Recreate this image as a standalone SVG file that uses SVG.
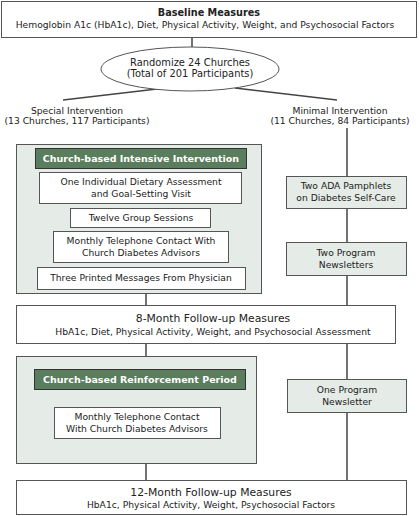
<svg xmlns="http://www.w3.org/2000/svg" width="419" height="516" viewBox="0 0 419 516">
<style>
text{font-family:"DejaVu Sans","Liberation Sans",sans-serif;fill:#222;text-anchor:middle;font-size:9.2px}
.b{font-weight:bold;font-size:9.7px}
.h{font-weight:bold;fill:#fff;font-size:9.5px}
.t{font-size:10.8px}
.r{font-size:9.9px}
.box{fill:#fff;stroke:#555;stroke-width:1}
.grp{fill:#e5ebe6;stroke:#555;stroke-width:1}
.hdr{fill:#5a7d5d;stroke:#333;stroke-width:1}
.c{stroke:#444;stroke-width:1.5;fill:none}
</style>
<rect width="419" height="516" fill="#fff"/>
<g id="connectors">
<line class="c" x1="192" y1="37" x2="192" y2="47"/>
<line class="c" x1="157" y1="89" x2="63" y2="100"/>
<line class="c" x1="235" y1="88" x2="337" y2="100"/>
<line class="c" x1="347" y1="128" x2="347" y2="480" stroke-width="2"/>
<line class="c" x1="146" y1="294" x2="146" y2="305"/>
<line class="c" x1="146" y1="343" x2="146" y2="356"/>
<line class="c" x1="146" y1="463" x2="146" y2="480"/>
</g>
<g id="baseline">
<rect class="box" x="1.5" y="1.5" width="415" height="36"/>
<text x="209" y="16" class="b">Baseline Measures</text>
<text x="205" y="28">Hemoglobin A1c (HbA1c), Diet, Physical Activity, Weight, and Psychosocial Factors</text>
</g>
<g id="randomize">
<ellipse class="box" cx="190" cy="69" rx="89" ry="22"/>
<text x="190" y="66" class="r">Randomize 24 Churches</text>
<text x="190" y="77" class="r">(Total of 201 Participants)</text>
</g>
<g id="special">
<text x="77" y="114">Special Intervention</text>
<text x="77" y="124">(13 Churches, 117 Participants)</text>
</g>
<g id="minimal">
<text x="340" y="114">Minimal Intervention</text>
<text x="340" y="124">(11 Churches, 84 Participants)</text>
</g>
<g id="intensive">
<rect class="grp" x="16.5" y="144.5" width="245" height="149"/>
<rect class="hdr" x="35.5" y="148.5" width="211" height="20"/>
<text x="141" y="162" class="h">Church-based Intensive Intervention</text>
</g>
<g id="dietary">
<rect class="box" x="39.5" y="172.5" width="202" height="31"/>
<text x="141" y="185">One Individual Dietary Assessment</text>
<text x="141" y="197">and Goal-Setting Visit</text>
</g>
<g id="group-sessions">
<rect class="box" x="70.5" y="208.5" width="140" height="19"/>
<text x="141" y="221">Twelve Group Sessions</text>
</g>
<g id="telephone1">
<rect class="box" x="53.5" y="231.5" width="175" height="31"/>
<text x="141" y="244">Monthly Telephone Contact With</text>
<text x="141" y="256">Church Diabetes Advisors</text>
</g>
<g id="printed">
<rect class="box" x="37.5" y="267.5" width="208" height="22"/>
<text x="141" y="281">Three Printed Messages From Physician</text>
</g>
<g id="month8">
<rect class="box" x="16.5" y="305.5" width="379" height="38"/>
<text x="213" y="322" class="t">8-Month Follow-up Measures</text>
<text x="213" y="335">HbA1c, Diet, Physical Activity, Weight, and Psychosocial Assessment</text>
</g>
<g id="reinforcement">
<rect class="grp" x="16.5" y="356.5" width="240" height="107"/>
<rect class="hdr" x="34.5" y="369.5" width="211" height="20"/>
<text x="140" y="383" class="h">Church-based Reinforcement Period</text>
</g>
<g id="telephone2">
<rect class="box" x="54.5" y="407.5" width="166" height="31"/>
<text x="137" y="420">Monthly Telephone Contact</text>
<text x="137" y="432">With Church Diabetes Advisors</text>
</g>
<g id="month12">
<rect class="box" x="16.5" y="480.5" width="390" height="34"/>
<text x="211" y="496" class="t">12-Month Follow-up Measures</text>
<text x="211" y="508">HbA1c, Physical Activity, Weight, Psychosocial Factors</text>
</g>
<g id="pamphlets">
<rect class="grp" x="286.5" y="176.5" width="120" height="32"/>
<text x="346" y="189">Two ADA Pamphlets</text>
<text x="346" y="201">on Diabetes Self-Care</text>
</g>
<g id="newsletters">
<rect class="grp" x="286.5" y="242.5" width="120" height="33"/>
<text x="346" y="256">Two Program</text>
<text x="346" y="268">Newsletters</text>
</g>
<g id="newsletter">
<rect class="grp" x="287.5" y="379.5" width="119" height="33"/>
<text x="347" y="393">One Program</text>
<text x="347" y="405">Newsletter</text>
</g>
</svg>
